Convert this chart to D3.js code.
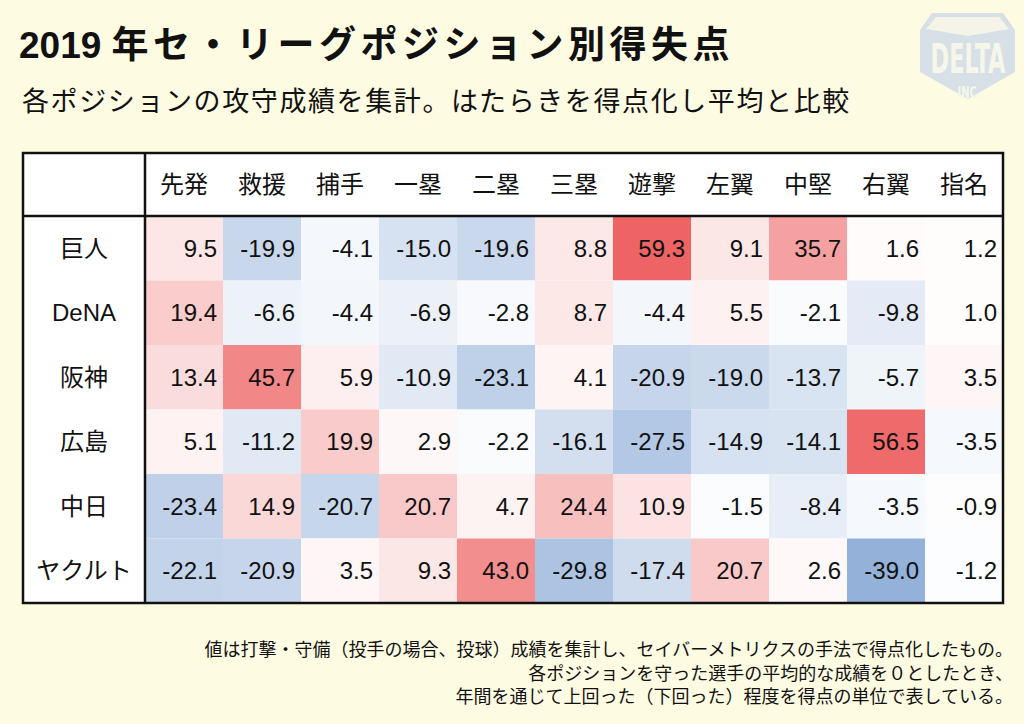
<!DOCTYPE html>
<html><head><meta charset="utf-8">
<script src="https://cdn.jsdelivr.net/npm/d3@7"></script>
<style>html,body{margin:0;padding:0;background:#fefbe3;}svg{display:block;}</style>
</head><body>
<svg id="chart" width="1024" height="724"></svg>
<script>
const positions = ["先発","救援","捕手","一塁","二塁","三塁","遊撃","左翼","中堅","右翼","指名"];
const teams = ["巨人","DeNA","阪神","広島","中日","ヤクルト"];
const giants   = [9.5,-19.9,-4.1,-15.0,-19.6,8.8,59.3,9.1,35.7,1.6,1.2];
const dena     = [19.4,-6.6,-4.4,-6.9,-2.8,8.7,-4.4,5.5,-2.1,-9.8,1.0];
const hanshin  = [13.4,45.7,5.9,-10.9,-23.1,4.1,-20.9,-19.0,-13.7,-5.7,3.5];
const hiroshima= [5.1,-11.2,19.9,2.9,-2.2,-16.1,-27.5,-14.9,-14.1,56.5,-3.5];
const chunichi = [-23.4,14.9,-20.7,20.7,4.7,24.4,10.9,-1.5,-8.4,-3.5,-0.9];
const yakult   = [-22.1,-20.9,3.5,9.3,43.0,-29.8,-17.4,20.7,2.6,-39.0,-1.2];
const seriesValues = [giants,dena,hanshin,hiroshima,chunichi,yakult];
const titleYear = "2019";
const titleRest = "年セ・リーグポジション別得失点";
const subtitle = "各ポジションの攻守成績を集計。はたらきを得点化し平均と比較";
const notes = ["値は打撃・守備（投手の場合、投球）成績を集計し、セイバーメトリクスの手法で得点化したもの。",
               "各ポジションを守った選手の平均的な成績を０としたとき、",
               "年間を通じて上回った（下回った）程度を得点の単位で表している。"];

const cells = [];
teams.forEach((t,i)=>positions.forEach((p,j)=>cells.push({team:t,pos:p,v:seriesValues[i][j]})));

const svg = d3.select("#chart");
const W=1024,H=724;
const tL=23, labR=145, tR=1003, tT=153, hB=216, tB=603;
const JP = "'Liberation Sans','Noto Sans CJK JP','Noto Sans',sans-serif";
const NUM = "'Liberation Sans',Arial,Helvetica,sans-serif";
const LOGOF = "'DejaVu Sans Condensed','Liberation Sans Narrow',sans-serif";

svg.append("rect").attr("width",W).attr("height",H).attr("fill","#fefbe3");

// logo
const logo = svg.append("g");
logo.append("path")
  .attr("d","M932,13 L1003,13 L1015,30 L1015,72 L968,99 L920,72 L920,30 Z")
  .attr("fill","#d6e0e6");
logo.append("path")
  .attr("d","M936,17 L999,17 L1009,29 L968,36 L926,29 Z")
  .attr("fill","#f4f4e8");
logo.append("text").attr("transform","translate(968,73) scale(1,1.6)").attr("text-anchor","middle")
  .attr("font-family",LOGOF).attr("font-weight","bold")
  .attr("font-size",25)
  .attr("fill","#f6f6ea").text("DELTA");
logo.append("text").attr("transform","translate(969,98) scale(1,1.5)").attr("text-anchor","middle")
  .attr("font-family",LOGOF).attr("font-weight","bold")
  .attr("font-size",11)
  .attr("fill","#f6f6ea").text("INC.");

// titles
const t = svg.append("text").attr("x",19).attr("y",58).attr("font-family",JP).attr("font-weight","bold")
  .attr("font-size",37).attr("fill","#111");
t.append("tspan").text(titleYear + " ");
t.append("tspan").attr("letter-spacing",4.5).text(titleRest);
svg.append("text").attr("x",22).attr("y",111).attr("font-family",JP)
  .attr("font-size",27).attr("letter-spacing",1.6).attr("fill","#111").text(subtitle);

// table
const x = d3.scaleBand().domain(positions).range([labR,tR]);
const y = d3.scaleBand().domain(teams).range([hB,tB]);
const color = d3.scaleLinear().domain([-60,0,60]).range(["#5a87c5","#ffffff","#ee6161"]);

svg.append("rect").attr("x",tL).attr("y",tT).attr("width",tR-tL).attr("height",tB-tT).attr("fill","#fff");

svg.append("g").selectAll("rect").data(cells).join("rect")
  .attr("x",d=>x(d.pos)).attr("y",d=>y(d.team))
  .attr("width",x.bandwidth()).attr("height",y.bandwidth())
  .attr("fill",d=>color(d.v));

svg.append("g").selectAll("text").data(cells).join("text")
  .attr("x",d=>x(d.pos)+x.bandwidth()-6).attr("y",d=>y(d.team)+y.bandwidth()/2)
  .attr("dy","0.36em").attr("text-anchor","end")
  .attr("font-family",NUM).attr("font-size",24).attr("fill","#111")
  .text(d=>d3.format(".1f")(d.v).replace("−","-"));

svg.append("g").selectAll("text").data(positions).join("text")
  .attr("x",d=>x(d)+x.bandwidth()/2).attr("y",(tT+hB)/2)
  .attr("dy","0.36em").attr("text-anchor","middle")
  .attr("font-family",JP).attr("font-size",24).attr("fill","#111").text(d=>d);

svg.append("g").selectAll("text").data(teams).join("text")
  .attr("x",(tL+labR)/2).attr("y",d=>y(d)+y.bandwidth()/2)
  .attr("dy","0.36em").attr("text-anchor","middle")
  .attr("font-family",JP).attr("font-size",24).attr("fill","#111").text(d=>d);

const lines = svg.append("g").attr("stroke","#111").attr("stroke-width",2.5).attr("fill","none");
lines.append("rect").attr("x",tL).attr("y",tT).attr("width",tR-tL).attr("height",tB-tT);
lines.append("line").attr("x1",tL).attr("x2",tR).attr("y1",hB).attr("y2",hB);
lines.append("line").attr("x1",labR).attr("x2",labR).attr("y1",tT).attr("y2",tB);

// notes
svg.append("g").selectAll("text").data(notes).join("text")
  .attr("x",1013).attr("y",(d,i)=>656+i*23.5).attr("text-anchor","end")
  .attr("font-family",JP).attr("font-size",18).attr("fill","#111").text(d=>d);
</script>
</body></html>
